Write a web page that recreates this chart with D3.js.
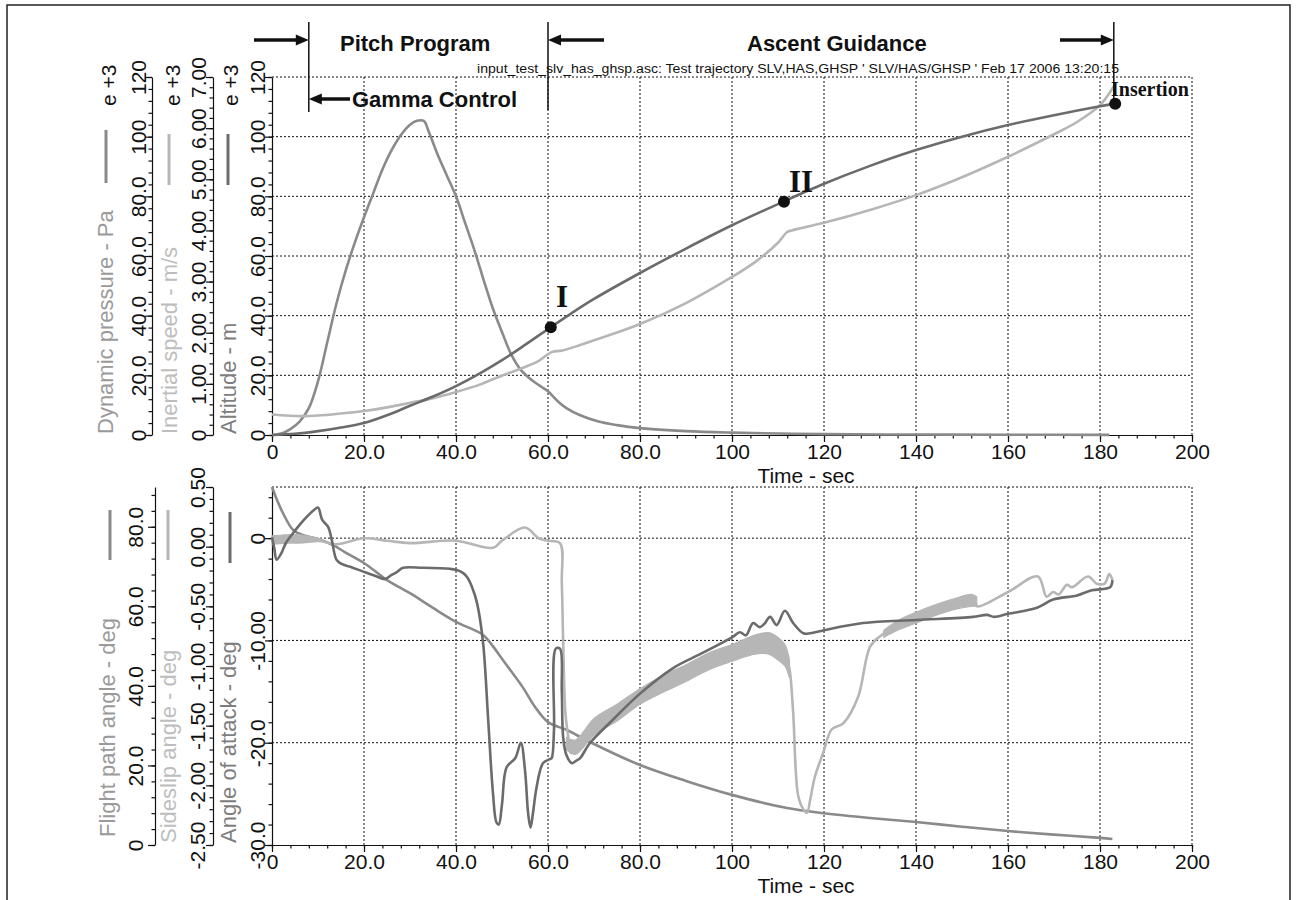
<!DOCTYPE html>
<html lang="en">
<head>
<meta charset="UTF-8">
<title>Ascent trajectory</title>
<script src="https://unpkg.com/d3@7.8.5/dist/d3.min.js"></script>
<style>
  body { margin: 0; background: #fff; }
  svg { display: block; }
</style>
</head>
<body>
<svg width="1297" height="900"></svg>
<script>
// ---- data ----
// top panel: [time s, value]
var dynPressure = [[0,0],[2,0.5],[4,2],[6,4.5],[8,9],[10,18],[12,31],[14,44],[16,55],[18,64.5],[20,73],[22,81],[24,89],[26,95.5],[28,100.5],[30,104],[31.5,105.3],[33,105.3],[34,102],[36,94],[38,87],[40,80],[42,71],[44,62],[46,52],[48,42.5],[50,34.5],[52,27],[54,22],[56,19],[58,16.7],[60,14.7],[62,11.5],[64,9],[67,6.6],[71,4.5],[75,3.3],[80,2.3],[90,1.3],[100,0.8],[110,0.5],[120,0.3],[140,0.15],[160,0.1],[182,0.05]]
var inertialSpeed = [[0,0.40],[3,0.38],[6,0.37],[10,0.38],[15,0.42],[20,0.47],[25,0.54],[30,0.63],[35,0.72],[40,0.84],[45,0.98],[48,1.09],[50,1.16],[55,1.33],[58,1.45],[60,1.58],[61,1.63],[63,1.65],[67,1.76],[71,1.88],[80,2.17],[90,2.58],[100,3.09],[105,3.38],[110,3.76],[112,3.97],[113,4.0],[120,4.15],[130,4.40],[140,4.69],[150,5.04],[160,5.44],[170,5.88],[175,6.12],[180,6.45],[183,6.82]]
var altitude = [[0,0],[5,0.4],[10,1.3],[15,2.5],[20,4.0],[25,6.6],[30,9.8],[35,12.9],[40,16.4],[45,20.5],[50,25.1],[55,30.2],[60,35.5],[65,40.7],[70,45.6],[80,54.3],[90,62.5],[100,70.3],[110,77.4],[120,84.2],[130,90.2],[140,95.5],[150,100],[160,103.9],[170,107.2],[180,110.2],[183,111]]
var events = [[60.6,36.1,'I'],[111.3,78.2,'II'],[183.3,111,'Insertion']]

// bottom panel: [time s, deg]
var flightPath = [[0,90],[1,87],[2.4,83.4],[4.6,79.2],[7,77.8],[9.8,77],[13.3,75.4],[16,73.5],[20,70.9],[25,66.6],[30,63.3],[35,59.6],[40,56.1],[45.9,52.8],[48,50],[50.2,46.5],[54.6,39.5],[57,35],[60,30.9],[64.1,28.9],[69.1,25.9],[80,20.1],[90,16.1],[100,12.6],[112,9.3],[120,8.0],[130,6.8],[140,5.8],[150,4.6],[160,3.5],[170,2.6],[180,1.8],[182.7,1.5]]
var sideslip = [[0,0.05],[10,0.05],[14,0.02],[20,0.07],[25,0.05],[30,0.03],[40,0.05],[48,-0.01],[50,0.05],[55,0.16],[58,0.07],[60,0.05],[62.6,0.03],[63,-0.3],[63.3,-0.8],[63.8,-1.4],[64.5,-1.62],[65,-1.73],[66,-1.70],[67,-1.62],[70,-1.52],[80,-1.26],[90,-1.07],[100,-0.89],[105,-0.82],[108,-0.80],[110.4,-0.84],[112,-0.95],[112.6,-1.05],[113.3,-1.39],[114.4,-2.09],[115.5,-2.2],[116.3,-2.23],[117,-2.12],[118,-1.93],[119.8,-1.73],[121.7,-1.53],[124.2,-1.48],[127.4,-1.26],[130,-0.84],[132.2,-0.75],[135.8,-0.67],[140,-0.6],[143.8,-0.54],[148,-0.49],[152.8,-0.45],[153.3,-0.5],[160,-0.38],[166.5,-0.25],[168.4,-0.42],[169.8,-0.38],[171,-0.40],[172.8,-0.32],[173.9,-0.34],[177.4,-0.25],[179.3,-0.31],[181,-0.31],[182,-0.23],[182.7,-0.28]]
// envelope of the jittery parts of the sideslip trace: [time, low, high]
var sideslipBands = [
  [[0,0.02,0.09],[3,0.03,0.10],[6,0.03,0.10],[9,0.04,0.08],[11,0.045,0.06]],
  [[64,-1.70,-1.60],[66,-1.74,-1.62],[70,-1.58,-1.44],[75,-1.46,-1.32],[80,-1.32,-1.19],[85,-1.22,-1.08],[90,-1.13,-0.99],[95,-1.03,-0.89],[100,-0.96,-0.82],[105,-0.90,-0.74],[108,-0.90,-0.72],[110,-0.95,-0.76],[111.5,-1.0,-0.82],[112.5,-1.1,-0.95]],
  [[133,-0.76,-0.70],[136,-0.70,-0.62],[140,-0.64,-0.55],[144,-0.58,-0.49],[148,-0.53,-0.44],[152,-0.50,-0.40],[153.2,-0.50,-0.42]]
]
var attack = [[0,0.1],[0.5,-1.0],[1,-2.1],[2,-1.5],[3,-0.5],[4.6,0.5],[6,1.3],[7.6,2.1],[9,2.7],[10,3.0],[10.9,1.8],[12.2,1.1],[13,-0.2],[14,-2.1],[15,-2.5],[17,-2.8],[20,-3.3],[22.5,-3.7],[24.6,-4.0],[26,-3.6],[27.2,-3.3],[28.5,-2.9],[32.8,-2.9],[38.7,-3.0],[40,-3.1],[41.5,-3.4],[42.4,-3.8],[43.5,-4.8],[44.6,-6.4],[45.9,-10.3],[47,-17.8],[48,-24.7],[48.8,-27.8],[49.3,-28],[50,-26],[51,-22.4],[52.9,-21.5],[54.1,-20],[55,-22.7],[55.7,-27],[56.2,-28.3],[56.7,-27],[57.5,-24.4],[58.9,-22],[60.4,-21.6],[60.8,-21.5],[61.3,-18.8],[61.7,-10.8],[62.6,-10.8],[63,-15],[63.3,-19.5],[64,-21.2],[65.2,-22],[66,-21.8],[67,-21.5],[69,-20.1],[74,-17.8],[80,-15.2],[87.2,-12.7],[93.7,-11.2],[100,-9.7],[101.7,-9.2],[103,-9.5],[104.6,-8.3],[106,-8.7],[107,-8.4],[108.3,-7.7],[109.7,-8.5],[111.5,-7.1],[113.3,-8.3],[115.5,-9.3],[117,-9.3],[120,-9.0],[128.5,-8.3],[140,-8.0],[152.4,-7.7],[155.4,-7.5],[157,-7.7],[160,-7.4],[166.3,-6.8],[169.8,-6.0],[175,-5.6],[178.2,-5.1],[182.2,-4.8],[182.7,-4.1]]

// tick values / labels
var timeTicks = [0,20,40,60,80,100,120,140,160,180,200]
var timeLabels = ['0','20.0','40.0','60.0','80.0','100','120','140','160','180','200']
var kiloTicks = [0,20,40,60,80,100,120]
var kiloLabels = ['0','20.0','40.0','60.0','80.0','100','120']
var speedTicks = [0,1,2,3,4,5,6,7]
var speedLabels = ['0','1.00','2.00','3.00','4.00','5.00','6.00','7.00']
var fpaTicks = [0,20,40,60,80]
var fpaLabels = ['0','20.0','40.0','60.0','80.0']
var slipTicks = [-2.5,-2,-1.5,-1,-0.5,0,0.5]
var slipLabels = ['-2.50','-2.00','-1.50','-1.00','-0.50','0.00','0.50']
var aoaTicks = [-30,-20,-10,0]
var aoaLabels = ['-30.0','-20.0','-10.00','0']

// ---- setup ----
var svg = d3.select('svg')
var sans = '"Liberation Sans", Arial, Helvetica, sans-serif'
var serif = '"Liberation Serif", "Times New Roman", serif'
var cDark = '#6b6b6b', cMid = '#8a8a8a', cLight = '#b6b6b6'

svg.append('rect').attr('x', 7).attr('y', 5).attr('width', 1283).attr('height', 920)
  .attr('fill', 'none').attr('stroke', '#222').attr('stroke-width', 1.5)

var x = d3.scaleLinear().domain([0, 200]).range([272, 1192])
// top panel scales
var yKilo = d3.scaleLinear().domain([0, 120]).range([435, 77])
var ySpeed = d3.scaleLinear().domain([0, 7]).range([435, 77])
// bottom panel scales
var yAoa = d3.scaleLinear().domain([-30, 5]).range([845, 487])
var ySlip = d3.scaleLinear().domain([-2.5, 0.5]).range([845, 487])
var yFpa = d3.scaleLinear().domain([0, 90]).range([845, 487])

function grid(yScale, yVals, yTop, yBot) {
  var g = svg.append('g').attr('stroke', '#111').attr('stroke-width', 1).attr('stroke-dasharray', '2,2')
  g.selectAll('line.v').data(timeTicks.slice(1)).enter().append('line')
    .attr('x1', d => x(d)).attr('x2', d => x(d)).attr('y1', yTop).attr('y2', yBot)
  g.selectAll('line.h').data(yVals).enter().append('line')
    .attr('x1', x(0)).attr('x2', x(200)).attr('y1', d => yScale(d)).attr('y2', d => yScale(d))
}
grid(yKilo, [20, 40, 60, 80, 100, 120], 77, 435)
grid(yAoa, [-20, -10, 0, 5], 487, 845)

function styleAxis(g) {
  g.attr('font-family', sans).attr('font-size', 21)
  g.selectAll('.tick text').attr('fill', '#111')
  g.selectAll('line,path').attr('stroke', '#111').attr('stroke-width', 1.2)
}

function leftAxis(xPos, scale, majors, labels, minors, gap) {
  var gMin = svg.append('g').attr('transform', 'translate(' + xPos + ',0)')
    .call(d3.axisLeft(scale).tickValues(minors).tickSize(3.5).tickSizeOuter(0).tickFormat(''))
  styleAxis(gMin)
  var g = svg.append('g').attr('transform', 'translate(' + xPos + ',0)')
    .call(d3.axisLeft(scale).tickValues(majors).tickSize(7).tickSizeOuter(0)
      .tickFormat(d => labels[majors.indexOf(d)]))
  g.select('.domain').remove()
  styleAxis(g)
  g.selectAll('.tick text').attr('transform', 'rotate(-90)')
    .attr('x', 0).attr('y', -gap).attr('dy', 0).attr('text-anchor', 'middle')
}

function bottomAxis(yPos) {
  var gMin = svg.append('g').attr('transform', 'translate(0,' + yPos + ')')
    .call(d3.axisBottom(x).tickValues(d3.range(0, 201, 4)).tickSize(3.5).tickSizeOuter(0).tickFormat(''))
  styleAxis(gMin)
  var g = svg.append('g').attr('transform', 'translate(0,' + yPos + ')')
    .call(d3.axisBottom(x).tickValues(timeTicks).tickSize(7).tickPadding(2).tickSizeOuter(0)
      .tickFormat(d => timeLabels[timeTicks.indexOf(d)]))
  g.select('.domain').remove()
  styleAxis(g)
  svg.append('text').attr('x', 806).attr('y', yPos + 48).attr('text-anchor', 'middle')
    .attr('font-family', sans).attr('font-size', 21).attr('fill', '#111').text('Time - sec')
}

function title(xBase, yStart, txt, color) {
  svg.append('text').attr('transform', 'translate(' + xBase + ',' + yStart + ') rotate(-90)')
    .attr('font-family', sans).attr('font-size', 22).attr('fill', color).text(txt)
}
function exponent(xBase) {
  svg.append('text').attr('transform', 'translate(' + xBase + ',106) rotate(-90)')
    .attr('font-family', sans).attr('font-size', 21).attr('fill', '#111').text('e +3')
}
function swatch(xPos, y1, y2, color) {
  svg.append('line').attr('x1', xPos).attr('x2', xPos).attr('y1', y1).attr('y2', y2)
    .attr('stroke', color).attr('stroke-width', 3)
}

// ---- top panel axes ----
leftAxis(152, yKilo, kiloTicks, kiloLabels, d3.range(0, 121, 4), 6.5)
leftAxis(213, ySpeed, speedTicks, speedLabels, d3.range(0, 7.01, 0.2), 7.5)
leftAxis(272, yKilo, kiloTicks, kiloLabels, d3.range(0, 121, 4), 7.5)
bottomAxis(435)

title(113, 434, 'Dynamic pressure - Pa', '#9a9a9a')
title(177, 434, 'Inertial speed - m/s', '#bdbdbd')
title(236, 434, 'Altitude - m', '#7d7d7d')
exponent(116); exponent(180); exponent(238)
swatch(106, 130, 183, cMid)
swatch(169, 134, 185, cLight)
swatch(228, 134, 185, cDark)

// ---- bottom panel axes ----
leftAxis(155, yFpa, fpaTicks, fpaLabels, d3.range(0, 89, 4), 12.5)
leftAxis(213, ySlip, slipTicks, slipLabels, d3.range(-2.5, 0.51, 0.1), 8.5)
leftAxis(272, yAoa, aoaTicks, aoaLabels, d3.range(-30, 5.1, 2), 7.5)
bottomAxis(845)

title(115, 837, 'Flight path angle - deg', '#9a9a9a')
title(176, 843, 'Sideslip angle - deg', '#bdbdbd')
title(236, 843, 'Angle of attack - deg', '#7d7d7d')
swatch(110, 510, 560, cMid)
swatch(168, 510, 560, cLight)
swatch(230, 512, 563, cDark)

// ---- curves ----
var smooth = d3.curveCatmullRom.alpha(0.5)
function curve(data, yScale, color) {
  svg.append('path').datum(data)
    .attr('d', d3.line().curve(smooth).x(d => x(d[0])).y(d => yScale(d[1])))
    .attr('fill', 'none').attr('stroke', color).attr('stroke-width', 2.6)
    .attr('stroke-linejoin', 'round')
}
curve(dynPressure, yKilo, cMid)
curve(inertialSpeed, ySpeed, cLight)
curve(altitude, yKilo, cDark)

curve(flightPath, yFpa, cMid)
sideslipBands.forEach(function (b) {
  svg.append('path').datum(b)
    .attr('d', d3.area().curve(smooth).x(d => x(d[0])).y0(d => ySlip(d[1])).y1(d => ySlip(d[2])))
    .attr('fill', cLight).attr('stroke', cLight).attr('stroke-width', 1.2)
})
curve(sideslip, ySlip, cLight)
curve(attack, yAoa, cDark)

// ---- event markers ----
svg.selectAll('circle.ev').data(events).enter().append('circle')
  .attr('cx', d => x(d[0])).attr('cy', d => yKilo(d[1])).attr('r', 6).attr('fill', '#111')
svg.append('text').attr('x', 562).attr('y', 307).attr('text-anchor', 'middle')
  .attr('font-family', serif).attr('font-weight', 'bold').attr('font-size', 31).attr('fill', '#111').text('I')
svg.append('text').attr('x', 801).attr('y', 192).attr('text-anchor', 'middle')
  .attr('font-family', serif).attr('font-weight', 'bold').attr('font-size', 31).attr('fill', '#111').text('II')
svg.append('text').attr('x', 1111).attr('y', 96)
  .attr('font-family', serif).attr('font-weight', 'bold').attr('font-size', 20).attr('fill', '#111').text('Insertion')

// ---- phase annotations ----
function vline(xPos, y1, y2) {
  svg.append('line').attr('x1', xPos).attr('x2', xPos).attr('y1', y1).attr('y2', y2)
    .attr('stroke', '#111').attr('stroke-width', 1.5)
}
function arrow(xFrom, xTo, yPos) {
  var dir = xTo > xFrom ? 1 : -1
  svg.append('line').attr('x1', xFrom).attr('x2', xTo - dir * 10).attr('y1', yPos).attr('y2', yPos)
    .attr('stroke', '#111').attr('stroke-width', 3.5)
  svg.append('path')
    .attr('d', 'M' + xTo + ',' + yPos + 'L' + (xTo - dir * 13) + ',' + (yPos - 5.5) + 'L' + (xTo - dir * 13) + ',' + (yPos + 5.5) + 'Z')
    .attr('fill', '#111')
}
vline(x(8), 22, 112)
vline(x(60), 22, 110)
vline(x(183), 22, 100)
arrow(254, x(8), 40)
arrow(350, x(8), 99)
arrow(604, x(60), 40)
arrow(1060, x(183), 40)

function bold(xPos, yPos, txt) {
  svg.append('text').attr('x', xPos).attr('y', yPos)
    .attr('font-family', sans).attr('font-weight', 'bold').attr('font-size', 22).attr('fill', '#111').text(txt)
}
bold(340, 51, 'Pitch Program')
bold(747, 51, 'Ascent Guidance')
bold(352, 107, 'Gamma Control')

svg.append('text').attr('x', 477).attr('y', 73)
  .attr('font-family', sans).attr('font-size', 12.5).attr('fill', '#111')
  .attr('textLength', 642).attr('lengthAdjust', 'spacingAndGlyphs')
  .text("input_test_slv_has_ghsp.asc: Test trajectory SLV,HAS,GHSP ' SLV/HAS/GHSP ' Feb 17 2006 13:20:15")
</script>
</body>
</html>
